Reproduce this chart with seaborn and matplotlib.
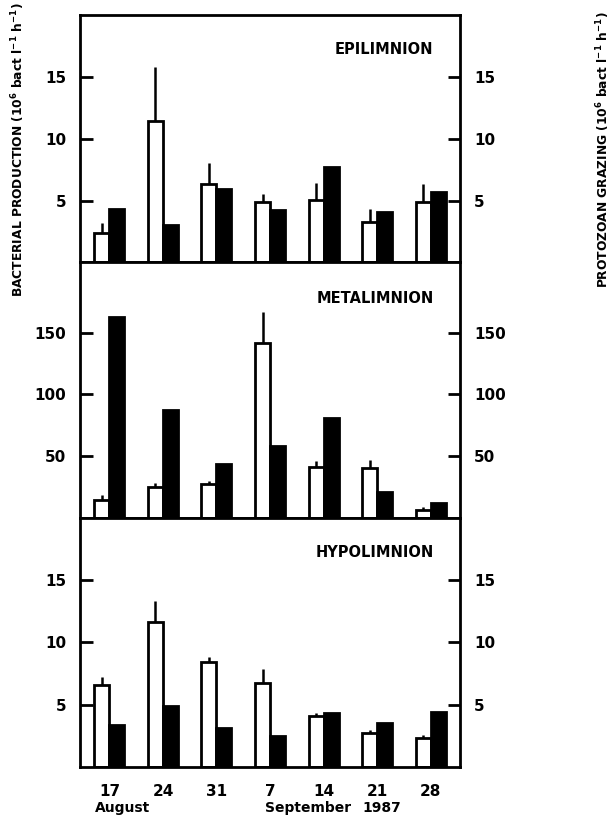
import numpy as np
import pandas as pd
import matplotlib
matplotlib.use("Agg")
import matplotlib.pyplot as plt
import matplotlib.transforms as mtransforms
import seaborn as sns

# dates (x tick labels)
dates = ["17", "24", "31", "7", "14", "21", "28"]

# EPILIMNION
epi_prod = [2.35, 11.4, 6.35, 4.9, 5.05, 3.3, 4.9]
epi_sd = [0.85, 4.4, 1.7, 0.6, 1.35, 1.0, 1.4]
epi_graz = [4.3, 3.0, 5.9, 4.2, 7.7, 4.1, 5.7]

# METALIMNION
meta_prod = [14, 25, 27, 142, 41, 40.5, 6]
meta_sd = [4, 3.5, 3, 25, 5, 6, 3]
meta_graz = [163, 87, 43.5, 58, 81, 21, 11.5]

# HYPOLIMNION
hypo_prod = [6.6, 11.6, 8.4, 6.75, 4.1, 2.7, 2.35]
hypo_sd = [0.6, 1.7, 0.4, 1.15, 0.2, 0.3, 0.25]
hypo_graz = [3.4, 4.9, 3.1, 2.5, 4.3, 3.5, 4.4]

panels = [
    ("EPILIMNION", epi_prod, epi_sd, epi_graz, 20, [5, 10, 15]),
    ("METALIMNION", meta_prod, meta_sd, meta_graz, 207, [50, 100, 150]),
    ("HYPOLIMNION", hypo_prod, hypo_sd, hypo_graz, 20, [5, 10, 15]),
]

sns.set_style("ticks")
plt.rcParams["font.family"] = ["DejaVu Sans"]
plt.rcParams["font.weight"] = "bold"
plt.rcParams["text.color"] = "black"
plt.rcParams["xtick.color"] = "black"
plt.rcParams["ytick.color"] = "black"

W, H = 615, 835
fig = plt.figure(figsize=(W / 100, H / 100), dpi=100)
gs = fig.add_gridspec(3, 1, left=80 / W, right=460 / W, top=1 - 15 / H, bottom=1 - 767 / H,
                      hspace=0, height_ratios=[248, 256, 250])

width = 0.56
for i, (name, prod, sd, graz, ymax, ticks) in enumerate(panels):
    ax = fig.add_subplot(gs[i])
    df = pd.DataFrame({
        "date": dates * 2,
        "series": ["production"] * 7 + ["grazing"] * 7,
        "value": list(prod) + list(graz),
    })
    sns.barplot(data=df, x="date", y="value", hue="series", order=dates,
                hue_order=["production", "grazing"],
                palette={"production": "white", "grazing": "black"},
                edgecolor="black", linewidth=2, width=width, gap=0,
                legend=False, ax=ax)
    xs = np.arange(len(dates)) - width / 4
    ax.errorbar(xs, prod, yerr=[np.zeros(len(sd)), sd], fmt="none",
                ecolor="black", elinewidth=1.8, capsize=0, zorder=1)
    ax.set_xlim(-0.55, 6.55)
    ax.set_ylim(0, ymax)
    ax.set_yticks(ticks)
    ax.set_yticklabels([str(t) for t in ticks], fontsize=11, fontweight="bold")
    ax.tick_params(axis="y", direction="in", length=9, width=2, left=True, right=True,
                   labelleft=True, labelright=True, pad=10, colors="black")
    ax.tick_params(axis="x", length=0)
    ax.set_xlabel("")
    ax.set_ylabel("")
    for s in ax.spines.values():
        s.set_visible(True)
        s.set_linewidth(2)
        s.set_color("black")
    ax.text(0.93, 0.86, name, transform=ax.transAxes, ha="right", va="center",
            fontsize=10.5, fontweight="bold")
    if i < 2:
        ax.set_xticklabels([])
    else:
        ax.set_xticklabels(dates, fontsize=11, fontweight="bold")
        ax.tick_params(axis="x", pad=12)
        trans = mtransforms.blended_transform_factory(ax.transData, ax.transAxes)
        ax.text(-0.28, -0.165, "August", transform=trans, ha="left", va="center",
                fontsize=10, fontweight="bold")
        ax.text(2.9, -0.165, "September", transform=trans, ha="left", va="center",
                fontsize=10, fontweight="bold")
        ax.text(4.72, -0.165, "1987", transform=trans, ha="left", va="center",
                fontsize=10, fontweight="bold")

fig.text(18 / W, 1 - 150 / H,
         "BACTERIAL PRODUCTION (10$^{\\mathbf{6}}$ bact l$^{\\mathbf{-1}}$ h$^{\\mathbf{-1}}$)",
         rotation=90, ha="center", va="center", fontsize=8.8, fontweight="bold")
fig.text(603 / W, 1 - 150 / H,
         "PROTOZOAN GRAZING (10$^{\\mathbf{6}}$ bact l$^{\\mathbf{-1}}$ h$^{\\mathbf{-1}}$)",
         rotation=90, ha="center", va="center", fontsize=8.8, fontweight="bold")

fig.savefig("out.png", dpi=100)
